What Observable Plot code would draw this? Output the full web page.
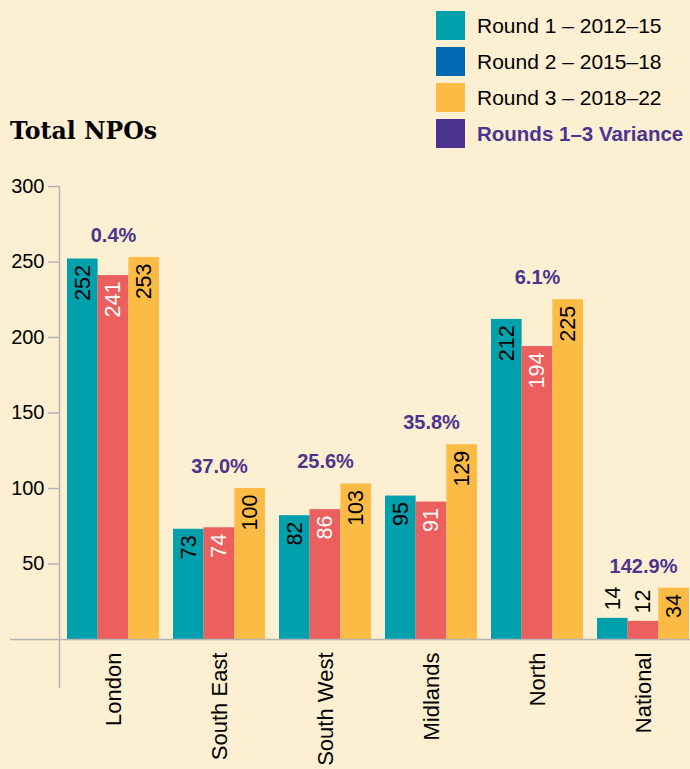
<!DOCTYPE html>
<html><head><meta charset="utf-8">
<script src="https://cdn.jsdelivr.net/npm/d3@7"></script>
<script src="https://cdn.jsdelivr.net/npm/@observablehq/plot@0.6"></script>
<style>
html,body{margin:0;padding:0;background:#FDEFD1;overflow:hidden}
#wrap{position:relative;width:690px;height:769px;font-family:"Liberation Sans",Arial,sans-serif}
#chart{position:absolute;left:0;top:0}
#title{position:absolute;left:10px;top:120px;font-family:"DejaVu Serif",serif;font-weight:bold;font-size:23.6px;line-height:23.6px;color:#000;white-space:nowrap}
#legend{position:absolute;left:436px;top:11px}
.row{display:flex;align-items:center;height:29px;margin-bottom:7px;white-space:nowrap}
.sw{width:29px;height:29px;margin-right:12px;flex:none}
.lt{font-size:21px;color:#000}
</style>
</head><body>
<div id="wrap">
  <div id="chart"></div>
  <div id="title">Total NPOs</div>
  <div id="legend"></div>
</div>
<script>
const regions = ["London","South East","South West","Midlands","North","National"];
const round1 = [252,73,82,95,212,14];
const round2 = [241,74,86,91,194,12];
const round3 = [253,100,103,129,225,34];
const variance = ["0.4%","37.0%","25.6%","35.8%","6.1%","142.9%"];
const legendLabels = ["Round 1 – 2012–15","Round 2 – 2015–18","Round 3 – 2018–22","Rounds 1–3 Variance"];
const legendColors = ["#00A1AC","#0069B1","#FBBB45","#4B348F"];
const barColors = ["#00A1AC","#EB5F5F","#FBBB45"];
const labelColors = ["#000","#fff","#000"];
const yTicks = [50,100,150,200,250,300];

const series = [round1, round2, round3];
const rows = regions.flatMap((r,i)=>series.map((s,k)=>({region:r, round:k, value:s[i]})));

const W = 690, H = 769;
const xRange = [59, 697];
const pIn = 0.13, pOut = 0.065;
const step = (xRange[1]-xRange[0])/(regions.length - pIn + 2*pOut);
const bw = step*(1-pIn);
const sub = bw/3;
const inside = d => d.value >= 25;

const marks = [];
series.forEach((s,k)=>{
  const data = rows.filter(d=>d.round===k);
  marks.push(Plot.barY(data, {x:"region", y:"value", fill:barColors[k],
    insetLeft: Math.max(0, k*sub - 0.3), insetRight: Math.max(0,(2-k)*sub - 0.3)}));
});
series.forEach((s,k)=>{
  const data = rows.filter(d=>d.round===k);
  marks.push(Plot.text(data.filter(inside), {x:"region", y:"value", text:d=>String(d.value),
    dx:(k-1)*sub, dy:6, rotate:-90, textAnchor:"end", lineAnchor:"middle",
    fill:labelColors[k], fontSize:21.5}));
  marks.push(Plot.text(data.filter(d=>!inside(d)), {x:"region", y:"value", text:d=>String(d.value),
    dx:(k-1)*sub, dy:-8, rotate:-90, textAnchor:"start", lineAnchor:"middle",
    fill:"#000", fontSize:21.5}));
});
marks.push(Plot.text(regions, {x:d=>d, y:(d,i)=>Math.max(round1[i],round2[i],round3[i]),
  text:(d,i)=>variance[i], dy:-22, fontWeight:"bold", fill:"#4B348F", fontSize:20}));
marks.push(Plot.text(regions, {x:d=>d, y:()=>0, text:d=>d, dy:13, rotate:-90,
  textAnchor:"end", lineAnchor:"middle", fill:"#000", fontSize:22}));
marks.push(Plot.ruleY([0], {stroke:"#b5b5b5", strokeWidth:1.5, insetLeft:-49}));
marks.push(Plot.frame({anchor:"left", stroke:"#b5b5b5", strokeWidth:1.5}));
marks.push(Plot.axisY(yTicks, {tickSize:11, tickPadding:4, fontSize:20, stroke:"#b5b5b5", fill:"#000", strokeWidth:1.5, label:null}));

const chart = Plot.plot({
  width: W, height: H,
  marginLeft: 59, marginRight: 0, marginTop: 186, marginBottom: 82,
  style: {background:"transparent", fontFamily:"'Liberation Sans', Arial, sans-serif", overflow:"visible"},
  x: {domain: regions, range: xRange, paddingInner: pIn, paddingOuter: pOut, axis: null},
  y: {domain: [0,300], range: [639,186], axis: null, label: null},
  marks
});
document.getElementById("chart").appendChild(chart);

const leg = document.getElementById("legend");
legendLabels.forEach((t,i)=>{
  const row = document.createElement("div"); row.className="row";
  const sw = document.createElement("div"); sw.className="sw"; sw.style.background=legendColors[i];
  const lt = document.createElement("div"); lt.className="lt"; lt.textContent=t;
  if(i===3){lt.style.color="#4B348F"; lt.style.fontWeight="bold"; lt.style.fontSize="20.5px";}
  row.appendChild(sw); row.appendChild(lt); leg.appendChild(row);
});
</script>
</body></html>
